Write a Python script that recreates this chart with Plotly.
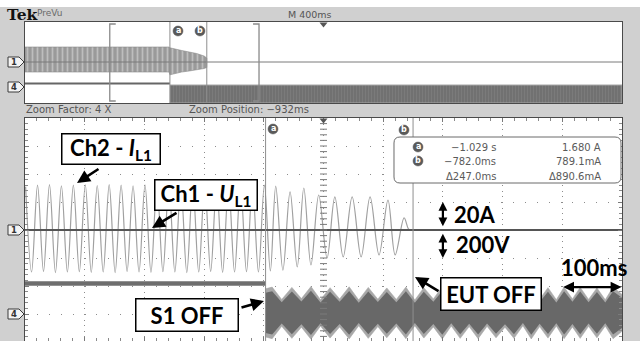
import numpy as np
import plotly.graph_objects as go

W, H = 640, 341

# ---------------- acquisition settings ----------------
OVERVIEW_DIV_MS = 400          # M 400ms (overview)
ZOOM_FACTOR = 4
ZOOM_POS_MS = -932
CURSOR_A_MS = -1029.0
CURSOR_B_MS = -782.0
CURSOR_I_TEXT = ["1.680 A", "789.1mA", "Δ890.6mA"]

# ---------------- zoomed window (100 ms/div, values in div) ----------------
# Ch2 - I_L1 : successive extrema of the mains current
ch2_t = [-1431, -1421, -1411, -1401, -1391, -1381, -1371, -1361, -1351, -1341,
         -1331, -1321, -1311, -1301, -1291, -1281, -1271, -1261, -1251, -1241,
         -1231, -1221, -1211, -1201, -1191, -1181, -1171, -1161, -1151, -1141,
         -1131, -1121, -1111, -1101, -1091, -1081, -1071, -1061, -1051, -1041,
         -1031, -1021, -1012, -1000, -988, -976, -965, -953, -940, -926,
         -913, -899, -884, -869, -854, -839, -824, -812, -797, -790, -787]
ch2_v = [1.55, -1.50, 1.60, -1.48, 1.62, -1.52, 1.58, -1.50, 1.60, -1.49,
         1.61, -1.51, 1.59, -1.50, 1.62, -1.52, 1.60, -1.48, 1.58, -1.50,
         1.61, -1.51, 1.60, -1.49, 1.62, -1.50, 1.59, -1.52, 1.60, -1.50,
         1.61, -1.48, 1.58, -1.51, 1.60, -1.50, 1.62, -1.49, 1.60, -1.50,
         1.60, -1.46, 1.57, -1.43, 1.36, -1.32, 1.50, -1.25, 1.25, -1.00,
         1.18, -0.96, 1.18, -0.96, 1.18, -0.89, 1.07, -0.89, 0.43, 0.05, 0.0]

# Ch1 - U_L1 level
ch1_level = 0.0

# Ch4 : level before S1 OFF, then amplitude-modulated noise envelope
ch4_pre_level = -1.91
ch4_center = -2.96
ch4_env_t = [-1029, -1018, -1002, -985, -969, -953, -937, -921, -905, -889,
             -873, -857, -841, -826, -810, -794, -779, -764, -748, -733,
             -718, -703, -688, -673, -658, -643, -628, -613, -598, -584,
             -570, -556, -542, -529, -515, -502, -488, -474, -460, -447, -432]
ch4_env_a = [0.80, 0.86, 0.42, 0.85, 0.45, 0.88, 0.41, 0.84, 0.44, 0.87,
             0.40, 0.85, 0.43, 0.83, 0.42, 0.86, 0.40, 0.84, 0.44, 0.87,
             0.41, 0.85, 0.43, 0.86, 0.42, 0.83, 0.45, 0.85, 0.40, 0.87,
             0.43, 0.84, 0.41, 0.86, 0.44, 0.85, 0.42, 0.83, 0.41, 0.86, 0.60]

# ---------------- overview record (400 ms/div) ----------------
ov_ch2_t = [-2000, -1035, -1029, -1000, -950, -900, -850, -800, -782, -781]
ov_ch2_hi = [1.5, 1.5, 1.42, 1.3, 1.15, 1.0, 0.85, 0.6, 0.4, 0.0]
ov_ch2_lo = [-1.0, -1.0, -1.28, -1.15, -1.0, -0.9, -0.8, -0.65, -0.55, 0.0]
ov_ch4_pre = -2.15
ov_ch4_top = -2.3
ov_ch4_bot = -4.1

# ---------------- geometry helpers ----------------
def PX(x):
    return x / W


def PY(y):
    return 1 - y / H


zoom_span = 10 * OVERVIEW_DIV_MS / ZOOM_FACTOR
zx0, zx1 = ZOOM_POS_MS - zoom_span / 2, ZOOM_POS_MS + zoom_span / 2
ox0, ox1 = -5 * OVERVIEW_DIV_MS, 5 * OVERVIEW_DIV_MS

BG = "#d0d0d0"
BORDER = "#4a4a4a"
TRACE2 = "#a0a0a0"

fig = go.Figure()

# ======== overview panel ========
fig.add_trace(go.Scatter(
    x=ov_ch2_t + ov_ch2_t[::-1], y=ov_ch2_hi + ov_ch2_lo[::-1],
    xaxis="x", yaxis="y", mode="lines", fill="toself",
    line=dict(width=0.6, color="#8a8a8a"), fillcolor="#9a9a9a",
    fillpattern=dict(shape="|", size=5, solidity=0.35, fgcolor="#e2e2e2", bgcolor="#9a9a9a"),
    hoverinfo="skip"))
fig.add_trace(go.Scatter(x=[ox0, ox1], y=[ch1_level, ch1_level], xaxis="x", yaxis="y",
                         mode="lines", line=dict(color="#7a7a7a", width=1), hoverinfo="skip"))
fig.add_trace(go.Scatter(x=[ox0, CURSOR_A_MS], y=[ov_ch4_pre, ov_ch4_pre], xaxis="x", yaxis="y",
                         mode="lines", line=dict(color="#666666", width=2), hoverinfo="skip"))
fig.add_trace(go.Scatter(
    x=[CURSOR_A_MS, ox1, ox1, CURSOR_A_MS], y=[ov_ch4_top, ov_ch4_top, ov_ch4_bot, ov_ch4_bot],
    xaxis="x", yaxis="y", mode="lines", fill="toself",
    line=dict(width=1.2, color="#a8a8a8"), fillcolor="#717171",
    fillpattern=dict(shape="|", size=3, solidity=0.25, fgcolor="#8e8e8e", bgcolor="#717171"),
    hoverinfo="skip"))

# ======== zoomed panel ========
fig.add_trace(go.Scatter(x=[zx0, CURSOR_A_MS], y=[ch4_pre_level, ch4_pre_level],
                         xaxis="x2", yaxis="y2", mode="lines",
                         line=dict(color="#6e6e6e", width=4.5), hoverinfo="skip"))

up = [ch4_center + a + 0.06 for a in ch4_env_a]
lo = [ch4_center - a - 0.06 for a in ch4_env_a]
fig.add_trace(go.Scatter(x=ch4_env_t + ch4_env_t[::-1], y=up + lo[::-1],
                         xaxis="x2", yaxis="y2", mode="lines", fill="toself",
                         line=dict(width=0.6, color="#a8a8a8"), fillcolor="#a8a8a8",
                         hoverinfo="skip"))
up_i = [ch4_center + 0.9 * a for a in ch4_env_a]
lo_i = [ch4_center - 0.9 * a for a in ch4_env_a]
fig.add_trace(go.Scatter(x=ch4_env_t + ch4_env_t[::-1], y=up_i + lo_i[::-1],
                         xaxis="x2", yaxis="y2", mode="lines", fill="toself",
                         line=dict(width=0), fillcolor="#686868", hoverinfo="skip"))

fig.add_trace(go.Scatter(x=ch2_t, y=ch2_v, xaxis="x2", yaxis="y2", mode="lines",
                         line=dict(color=TRACE2, width=1.2, shape="spline", smoothing=1.0),
                         hoverinfo="skip"))
fig.add_trace(go.Scatter(x=[zx0, zx1], y=[ch1_level, ch1_level], xaxis="x2", yaxis="y2",
                         mode="lines", line=dict(color="#555555", width=1.8), hoverinfo="skip"))

# centre cross-hair tick marks
vy = np.arange(-3.8, 4.0, 0.2)
fig.add_trace(go.Scatter(x=[ZOOM_POS_MS] * len(vy), y=vy, xaxis="x2", yaxis="y2", mode="markers",
                         marker=dict(symbol="line-ew", size=5, line=dict(width=1, color="#7a7a7a")),
                         hoverinfo="skip"))

# ---------------- axes ----------------
XD = [25 / W, 622 / W]
axis_common = dict(showticklabels=False, zeroline=False, showline=True, linecolor=BORDER,
                   linewidth=1, fixedrange=True)
fig.update_layout(
    width=W, height=H, margin=dict(l=0, r=0, t=0, b=0),
    paper_bgcolor=BG, plot_bgcolor="white", showlegend=False, hovermode=False,
    xaxis=dict(domain=XD, range=[ox0, ox1], anchor="y", showgrid=False, mirror=True,
               ticks="", **axis_common),
    yaxis=dict(domain=[PY(103), PY(22)], range=[ov_ch4_bot, 4.0], anchor="x", showgrid=False,
               mirror=True, ticks="", **axis_common),
    xaxis2=dict(domain=XD, range=[zx0, zx1], anchor="y2", tick0=zx0, dtick=100,
                showgrid=True, gridcolor="#8c8c8c", gridwidth=1, griddash="1px,4.6px",
                ticks="inside", ticklen=4, tickcolor="#7a7a7a", mirror="ticks",
                minor=dict(ticks="inside", tick0=zx0, dtick=20, ticklen=3, tickcolor="#8a8a8a"),
                **axis_common),
    yaxis2=dict(domain=[0, PY(118)], range=[(230 - 341) / 28, 4.0], anchor="x2", tick0=0, dtick=1,
                showgrid=True, gridcolor="#8c8c8c", gridwidth=1, griddash="1px,10.9px",
                ticks="inside", ticklen=4, tickcolor="#7a7a7a", mirror="ticks",
                minor=dict(ticks="inside", tick0=0, dtick=0.2, ticklen=3, tickcolor="#8a8a8a"),
                **axis_common),
)

shapes = []
# white strip along the top edge
shapes.append(dict(type="rect", xref="paper", yref="paper", x0=0, x1=1, y0=PY(7), y1=1,
                   fillcolor="white", line=dict(width=0), layer="below"))

# cursors
for c in (CURSOR_A_MS, CURSOR_B_MS):
    shapes.append(dict(type="line", xref="x2", yref="y2 domain", x0=c, x1=c, y0=0, y1=1,
                       line=dict(color="#8e8e8e", width=1)))
    shapes.append(dict(type="line", xref="x", yref="y domain", x0=c, x1=c, y0=0, y1=1,
                       line=dict(color="#8e8e8e", width=1)))

# zoom window brackets in the overview
bt = 40
for xe, d in ((zx0, 1), (zx1, -1)):
    shapes.append(dict(type="path", xref="x", yref="y",
                       path=f"M {xe + d * bt},3.8 L {xe},3.8 L {xe},-3.9 L {xe + d * bt},-3.9",
                       line=dict(color="#8a8a8a", width=1.3)))


def tri(xc, ytop):
    return (f"M {PX(xc - 4)},{PY(ytop)} L {PX(xc + 4)},{PY(ytop)} "
            f"L {PX(xc)},{PY(ytop + 5)} Z")


shapes.append(dict(type="path", xref="paper", yref="paper", path=tri(323.5, 22.5),
                   fillcolor="#555555", line=dict(width=0)))
shapes.append(dict(type="path", xref="paper", yref="paper", path=tri(323.5, 118.5),
                   fillcolor="#555555", line=dict(width=0)))


# channel markers on the left edge
def chan_marker(yc):
    return (f"M {PX(8)},{PY(yc - 5)} L {PX(19)},{PY(yc - 5)} L {PX(24)},{PY(yc)} "
            f"L {PX(19)},{PY(yc + 5)} L {PX(8)},{PY(yc + 5)} Z")


markers = [(62, "1"), (87, "4"), (230, "1"), (314, "4")]
for yc, _ in markers:
    shapes.append(dict(type="path", xref="paper", yref="paper", path=chan_marker(yc),
                       fillcolor="#f4f4f4", line=dict(color="#3a3a3a", width=1)))


# cursor readout box
def rrect(x0, y0, x1, y1, r):
    def P(x, y):
        return f"{PX(x):.5f},{PY(y):.5f}"
    return (f"M {P(x0 + r, y0)} L {P(x1 - r, y0)} Q {P(x1, y0)} {P(x1, y0 + r)} "
            f"L {P(x1, y1 - r)} Q {P(x1, y1)} {P(x1 - r, y1)} L {P(x0 + r, y1)} "
            f"Q {P(x0, y1)} {P(x0, y1 - r)} L {P(x0, y0 + r)} Q {P(x0, y0)} {P(x0 + r, y0)} Z")


shapes.append(dict(type="path", xref="paper", yref="paper", path=rrect(394, 137, 621, 183, 6),
                   fillcolor="white", line=dict(color="#6a6a6a", width=1)))

# circled cursor tags
tags = [(178, 31, "a"), (200, 31, "b"), (273, 129, "a"), (404, 130, "b"),
        (418, 147, "a"), (418, 161, "b")]
for cx, cy, _ in tags:
    shapes.append(dict(type="circle", xref="paper", yref="paper",
                       x0=PX(cx - 5), x1=PX(cx + 5), y0=PY(cy + 5), y1=PY(cy - 5),
                       fillcolor="#5a5a5a", line=dict(color="#5a5a5a", width=0.5)))

fig.update_layout(shapes=shapes)

# ---------------- text ----------------
ann = []


def text(x, y, s, size, color="#555555", family="DejaVu Sans", xanchor="left", **kw):
    ann.append(dict(x=PX(x), y=PY(y), xref="paper", yref="paper", text=s, showarrow=False,
                    xanchor=xanchor, yanchor="middle", font=dict(family=family, size=size, color=color),
                    **kw))


text(5, 15, "<b>Tek</b>", 15.5, color="#111111", family="DejaVu Serif")
text(35, 13, "PreVu", 9, color="#6a6a6a")
text(286, 15, f"M {OVERVIEW_DIV_MS}ms", 9.5, color="#555555")
text(24, 110, f"Zoom Factor: {ZOOM_FACTOR} X", 10, color="#555555")
text(187, 110, f"Zoom Position: \u2212{abs(ZOOM_POS_MS)}ms", 10, color="#555555")

for yc, s in markers:
    text(13.5, yc, f"<b>{s}</b>", 8.5, color="#333333", xanchor="center")
for cx, cy, s in tags:
    text(cx, cy - 0.5, f"<b>{s}</b>", 8, color="white", xanchor="center")

# cursor readout values
t_rows = [f"\u2212{abs(CURSOR_A_MS) / 1000:.3f} s", f"\u2212{abs(CURSOR_B_MS):.1f}ms",
          f"Δ{CURSOR_B_MS - CURSOR_A_MS:.1f}ms"]
for i, (ts, cs) in enumerate(zip(t_rows, CURSOR_I_TEXT)):
    yrow = 147 + 14.5 * i
    text(498, yrow, ts, 10, color="#5a5a5a", xanchor="right")
    text(603, yrow, cs, 10, color="#5a5a5a", xanchor="right")

BIG = dict(family="Lato", size=22, color="black")


def label_box(cx, cy, w, h, s):
    ann.append(dict(x=PX(cx), y=PY(cy), xref="paper", yref="paper", text=s, showarrow=False,
                    xanchor="center", yanchor="middle", font=BIG, bgcolor="white",
                    bordercolor="black", borderwidth=1.5, borderpad=0, width=w - 3, height=h - 3))


def pointer(tx, ty, hx, hy):
    ann.append(dict(x=PX(hx), y=PY(hy), xref="paper", yref="paper", text="", showarrow=True,
                    ax=tx - hx, ay=ty - hy, axref="pixel", ayref="pixel",
                    arrowhead=2, arrowsize=1, arrowwidth=2.6, arrowcolor="black", standoff=0))


label_box(111, 149, 100, 32, "<b>Ch2 - <i>I</i><sub>L1</sub></b>")
label_box(206, 195, 104, 32, "<b>Ch1 - <i>U</i><sub>L1</sub></b>")
label_box(187, 315, 104, 34, "<b>S1 OFF</b>")
label_box(491, 294, 102, 34, "<b>EUT OFF</b>")
pointer(100, 168, 77, 183)
pointer(178, 212, 152, 228)
pointer(240, 308, 264, 301)
pointer(440, 292, 415, 277)

# scale markers: one division each
scale_x = -732
for y0, y1 in ((0.0, 1.0), (0.0, -1.0)):
    ann.append(dict(x=scale_x, y=y1, xref="x2", yref="y2", ax=scale_x, ay=y0 + 0.08 * np.sign(y1),
                    axref="x2", ayref="y2",
                    text="", showarrow=True, arrowside="end+start", arrowhead=2, arrowsize=0.8,
                    arrowwidth=2.2, arrowcolor="black", standoff=0, startstandoff=0))
ann.append(dict(x=-433, y=-2.04, xref="x2", yref="y2", ax=-533, ay=-2.04, axref="x2", ayref="y2",
                text="", showarrow=True, arrowside="end+start", arrowhead=2, arrowsize=0.9,
                arrowwidth=2.4, arrowcolor="black", standoff=0, startstandoff=0))
text(452, 214, "<b>20A</b>", 22, color="black", family="Lato")
text(454, 244, "<b>200V</b>", 22, color="black", family="Lato")
text(594, 267, "<b>100ms</b>", 22, color="black", family="Lato", xanchor="center")

fig.update_layout(annotations=ann)

fig.write_html("out.html")
